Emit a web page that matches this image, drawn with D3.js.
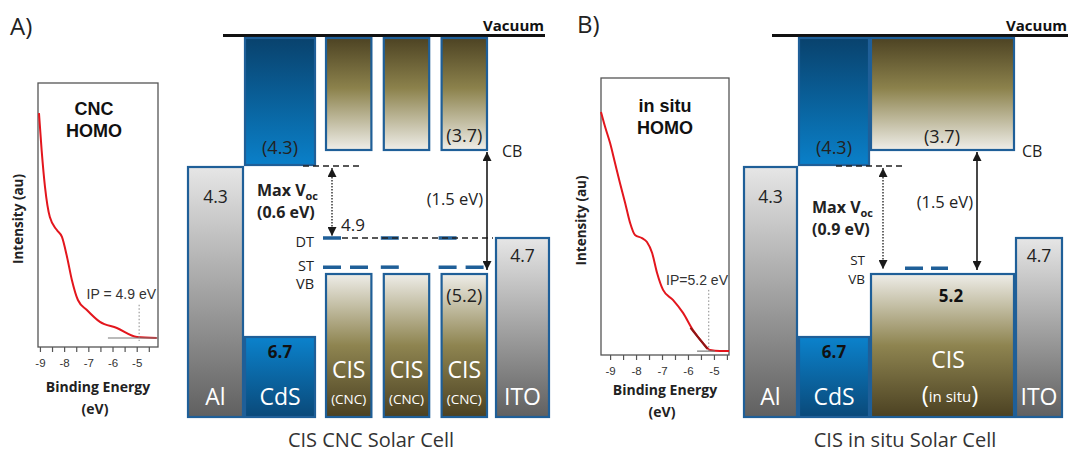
<!DOCTYPE html>
<html>
<head>
<meta charset="utf-8">
<script src="https://cdn.jsdelivr.net/npm/d3@7"></script>
<style>
  body { margin: 0; background: #fff; }
  svg { display: block; }
</style>
</head>
<body>
<svg id="chart" width="1068" height="457"></svg>
<script>
// ---------- photoemission spectra: binding energy (eV) vs intensity (a.u.) ----------
const cncEnergy    = [-9.04, -8.93, -8.79, -8.59, -8.30, -8.09, -7.88, -7.68, -7.43, -7.06, -6.52, -5.82, -4.99, -4.17];
const cncIntensity = [88.6, 74.6, 60.6, 49.2, 44.3, 41.7, 34.1, 25.4, 17.8, 14.0, 9.5, 7.2, 3.8, 3.4];
const insituEnergy    = [-9.35, -9.19, -9.00, -8.81, -8.62, -8.42, -8.23, -8.04, -7.77, -7.58, -7.38, -7.19, -6.96, -6.58, -6.19, -5.81, -5.42, -5.15, -4.77, -4.42];
const insituIntensity = [87.7, 82.3, 76.5, 69.3, 62.1, 54.9, 47.7, 43.3, 42.2, 40.8, 36.8, 29.6, 23.5, 19.9, 15.2, 9.0, 4.3, 1.8, 1.4, 1.4];
const insituEdgeFit = [[-5.9, 9.8], [-5.25, 2.2]];
const ionizationPotentials = [4.9, 5.2];
const bindingEnergyTicks = [-9, -8, -7, -6, -5];

// ---------- band levels (eV below vacuum) ----------
const contactNames = ["Al", "ITO"];
const contactWorkFunctions = [4.3, 4.7];
const cdsLevels = [4.3, 6.7];            // conduction band, valence band
const cisCncLevels = [3.7, 5.2];
const cisInsituLevels = [3.7, 5.2];
const cncTrapLevels = [4.9, 5.15];       // deep trap, shallow trap
const insituTrapLevels = [5.15];         // shallow trap
const maxVoc = [0.6, 0.9];
const cisBandGap = 1.5;
const cncColumns = ["CNC", "CNC", "CNC"];
const panelTitles = ["CIS CNC Solar Cell", "CIS in situ Solar Cell"];

// ---------- drawing ----------
const svg = d3.select("#chart");
const defs = svg.append("defs");
const BLUE = "#1f5f98";
const INK = "#222";
const SANS = "'Open Sans', 'Noto Sans', sans-serif";
const ARIAL = "'Liberation Sans', Arial, sans-serif";

function vGrad(id, stops) {
  const g = defs.append("linearGradient").attr("id", id)
    .attr("x1", 0).attr("y1", 0).attr("x2", 0).attr("y2", 1);
  stops.forEach(([o, c]) => g.append("stop").attr("offset", o).attr("stop-color", c));
}
vGrad("cdsCB", [[0, "#09426d"], [1, "#0a80c9"]]);
vGrad("cdsVB", [[0, "#0b82cc"], [1, "#0a4979"]]);
vGrad("cisCB", [[0, "#4d4323"], [0.45, "#8c824c"], [1, "#efeee9"]]);
vGrad("cisVB", [[0, "#eeede8"], [0.5, "#8e8450"], [1, "#4b4122"]]);
vGrad("metal", [[0, "#e6e6e6"], [1, "#606060"]]);

defs.append("marker").attr("id", "head")
  .attr("viewBox", "0 0 10 10").attr("refX", 10).attr("refY", 5)
  .attr("markerWidth", 9).attr("markerHeight", 9)
  .attr("markerUnits", "userSpaceOnUse")
  .attr("orient", "auto-start-reverse")
  .append("path").attr("d", "M0,0L10,5L0,10Z").attr("fill", "#1a1a1a");

function text(g, x, y, s, o = {}) {
  return g.append("text").attr("x", x).attr("y", y)
    .attr("text-anchor", o.anchor || "middle")
    .attr("font-family", o.family || SANS)
    .attr("font-size", o.size || 15)
    .attr("font-weight", o.weight || "normal")
    .attr("fill", o.fill || INK)
    .text(s);
}

// Schematic energy axis: vacuum at top, deeper levels further down (piecewise, not to scale).
const energy = d3.scaleLinear()
  .domain([0, 3.7, 4.3, 4.7, 4.9, 5.2, 6.7, 7.9])
  .range([37, 151, 166, 237, 238, 273, 336, 418]);
const yFloor = energy.range()[energy.range().length - 1];

function block(g, x0, x1, y0, y1, fill) {
  g.append("rect")
    .attr("x", x0 + 1).attr("y", y0 + 1)
    .attr("width", x1 - x0 - 2).attr("height", y1 - y0 - 2)
    .attr("fill", `url(#${fill})`)
    .attr("stroke", BLUE).attr("stroke-width", 2.2);
}
function dashed(g, x0, x1, y, dash = "6,4") {
  g.append("line").attr("x1", x0).attr("x2", x1).attr("y1", y).attr("y2", y)
    .attr("stroke", INK).attr("stroke-width", 1.3).attr("stroke-dasharray", dash);
}
function trap(g, x0, x1, y, dash) {
  g.append("line").attr("x1", x0).attr("x2", x1).attr("y1", y).attr("y2", y)
    .attr("stroke", BLUE).attr("stroke-width", 3.5)
    .attr("stroke-dasharray", dash || null);
}
function arrow(g, x, y0, y1, dotted) {
  g.append("line").attr("x1", x).attr("x2", x).attr("y1", y0).attr("y2", y1)
    .attr("stroke", "#1a1a1a").attr("stroke-width", dotted ? 1.3 : 1.6)
    .attr("stroke-dasharray", dotted ? "1.5,1.5" : null)
    .attr("marker-start", "url(#head)").attr("marker-end", "url(#head)");
}
function vocLabel(g, x, y, value) {
  const t = text(g, x, y, "Max V", { anchor: "start", weight: "bold", size: 16 });
  t.append("tspan").attr("font-size", 11).attr("dy", 4).text("oc");
  text(g, x, y + 22, `(${value} eV)`, { anchor: "start", weight: "bold", size: 16 });
}
function contacts(g, L) {
  // Al (left) and ITO (right) electrodes
  block(g, L.al[0], L.al[1], energy(contactWorkFunctions[0]), yFloor, "metal");
  block(g, L.ito[0], L.ito[1], energy(contactWorkFunctions[1]), yFloor, "metal");
  const alC = (L.al[0] + L.al[1]) / 2, itoC = (L.ito[0] + L.ito[1]) / 2;
  text(g, alC, 203, String(contactWorkFunctions[0]), { size: 17.5 });
  text(g, itoC, 262, String(contactWorkFunctions[1]), { size: 17.5 });
  text(g, alC, 405, contactNames[0], { size: 23, fill: "#fff" });
  text(g, itoC, 405, contactNames[1], { size: 23, fill: "#fff" });
}
function cds(g, L) {
  const c = (L.cds[0] + L.cds[1]) / 2;
  block(g, L.cds[0], L.cds[1], energy(0), energy(cdsLevels[0]), "cdsCB");
  block(g, L.cds[0], L.cds[1], energy(cdsLevels[1]), yFloor, "cdsVB");
  text(g, c, 154, `(${cdsLevels[0]})`, { size: 18 });
  text(g, c, 358, String(cdsLevels[1]), { size: 17, weight: "bold", fill: "#111" });
  text(g, c, 405, "CdS", { size: 23, fill: "#fff" });
}
function vacuum(g, L) {
  g.append("line").attr("x1", L.vac[0]).attr("x2", L.vac[1]).attr("y1", 35.5).attr("y2", 35.5)
    .attr("stroke", "#111").attr("stroke-width", 3);
  text(g, L.vac[1] - 1, 31, "Vacuum", { anchor: "end", weight: "bold", size: 15, fill: "#111" });
}

// ---------------- Panel A: CNC device ----------------
const LA = { al: [187, 244], cds: [244, 316], cis: [325, 488], ito: [495, 550], vac: [223, 545] };
const gA = svg.append("g");
text(gA, 10, 35, "A)", { anchor: "start", size: 24 });
vacuum(gA, LA);
const cols = d3.scaleBand().domain(d3.range(cncColumns.length)).range(LA.cis).paddingInner(0.18);
cncColumns.forEach((name, i) => {
  const x0 = cols(i), x1 = x0 + cols.bandwidth(), c = (x0 + x1) / 2;
  block(gA, x0, x1, energy(0), energy(cisCncLevels[0]), "cisCB");
  block(gA, x0, x1, energy(cisCncLevels[1]), yFloor, "cisVB");
  text(gA, c, 378, "CIS", { size: 23, fill: "#fff" });
  text(gA, c, 404, `(${name})`, { size: 13.5, fill: "#fff" });
});
contacts(gA, LA);
cds(gA, LA);
{
  const last = cncColumns.length - 1, c3 = cols(last) + cols.bandwidth() / 2;
  text(gA, c3, 142, `(${cisCncLevels[0]})`, { size: 18 });
  text(gA, c3, 302, `(${cisCncLevels[1]})`, { size: 18 });
}
// trap states
const stDashes = [2, 1, 2];
cncColumns.forEach((_, i) => {
  const x0 = cols(i) - 2;
  trap(gA, x0, x0 + 18, energy(cncTrapLevels[0]));
  trap(gA, x0, x0 + 18 + (stDashes[i] - 1) * 27, energy(cncTrapLevels[1]), "18,9");
});
dashed(gA, 303, 362, energy(cdsLevels[0]));
dashed(gA, 342, 493, energy(cncTrapLevels[0]));
arrow(gA, 332, energy(cdsLevels[0]) + 2, energy(cncTrapLevels[0]) - 2, true);
arrow(gA, 487, energy(cisCncLevels[0]) + 1, energy(cisCncLevels[0] + cisBandGap) - 3, false);
vocLabel(gA, 257, 196, maxVoc[0]);
text(gA, 341, 231, String(cncTrapLevels[0]), { anchor: "start", size: 17 });
text(gA, 314, 247, "DT", { anchor: "end", size: 14.5 });
text(gA, 314, 271, "ST", { anchor: "end", size: 14.5 });
text(gA, 314, 289, "VB", { anchor: "end", size: 14.5 });
text(gA, 502, 157, "CB", { anchor: "start", size: 16 });
text(gA, 483, 205, `(${cisBandGap} eV)`, { anchor: "end", size: 16.5 });
text(gA, 371, 447, panelTitles[0], { size: 20, fill: "#333" });

// ---------------- Panel B: in situ device ----------------
const LB = { al: [743, 798], cds: [798, 870], cis: [870, 1015], ito: [1015, 1063], vac: [772, 1068] };
const gB = svg.append("g");
text(gB, 577, 33, "B)", { anchor: "start", size: 24 });
vacuum(gB, LB);
block(gB, LB.cis[0], LB.cis[1], energy(0), energy(cisInsituLevels[0]), "cisCB");
block(gB, LB.cis[0], LB.cis[1], energy(cisInsituLevels[1]), yFloor, "cisVB");
contacts(gB, LB);
cds(gB, LB);
text(gB, 942, 143, `(${cisInsituLevels[0]})`, { size: 18 });
text(gB, 951, 302, String(cisInsituLevels[1]), { size: 17, weight: "bold", fill: "#111" });
text(gB, 948, 368, "CIS", { size: 23, fill: "#fff" });
{
  const t = text(gB, 950, 403, "(", { size: 24, fill: "#fff" });
  t.append("tspan").attr("font-size", 15).attr("dy", -1).text("in situ");
  t.append("tspan").attr("font-size", 24).attr("dy", 1).text(")");
}
trap(gB, 905, 948, energy(insituTrapLevels[0]) + 1, "18,8");
dashed(gB, 836, 905, energy(cdsLevels[0]));
arrow(gB, 883, energy(cdsLevels[0]) + 2, energy(cdsLevels[0] + maxVoc[1]) - 4, true);
arrow(gB, 977, energy(cisInsituLevels[0]) + 1, energy(cisInsituLevels[0] + cisBandGap) - 3, false);
vocLabel(gB, 812, 213, maxVoc[1]);
text(gB, 865, 265, "ST", { anchor: "end", size: 13.5 });
text(gB, 865, 284, "VB", { anchor: "end", size: 13.5 });
text(gB, 1022, 157, "CB", { anchor: "start", size: 16 });
text(gB, 973, 208, `(${cisBandGap} eV)`, { anchor: "end", size: 16.5 });
text(gB, 905, 447, panelTitles[1], { size: 20, fill: "#333" });

// ---------------- photoemission insets ----------------
function spectrum(cfg) {
  const g = svg.append("g");
  const [bx0, by0, bx1, by1] = cfg.box;
  const x = d3.scaleLinear().domain(cfg.xDomain).range([bx0, bx1]);
  const y = d3.scaleLinear().domain([0, 100]).range([by1, by0]);

  const minor = d3.range(bindingEnergyTicks[0], cfg.xDomain[1], 0.5);
  const axis = d3.axisBottom(x).tickValues(minor).tickSize(5).tickSizeOuter(0)
    .tickFormat(d => bindingEnergyTicks.includes(d) ? String(d) : "");
  const ax = g.append("g").attr("transform", `translate(0,${by1})`).call(axis);
  ax.select(".domain").remove();
  ax.selectAll(".tick line").attr("stroke", "#555").attr("stroke-width", 1.2);
  ax.selectAll(".tick text").attr("font-family", ARIAL).attr("font-size", 11.5)
    .attr("fill", "#333").attr("dy", "1.05em");

  g.append("rect").attr("x", bx0).attr("y", by0).attr("width", bx1 - bx0).attr("height", by1 - by0)
    .attr("fill", "none").attr("stroke", "#555").attr("stroke-width", 1.3);

  const pts = cfg.energy.map((e, i) => [e, cfg.intensity[i]]);
  const line = d3.line().x(d => x(d[0])).y(d => y(d[1])).curve(d3.curveMonotoneX);
  g.append("path").attr("d", line(pts)).attr("fill", "none")
    .attr("stroke", "#e3161d").attr("stroke-width", 2);
  if (cfg.fit) {
    g.append("path").attr("d", d3.line().x(d => x(d[0])).y(d => y(d[1]))(cfg.fit))
      .attr("fill", "none").attr("stroke", "#8e1515").attr("stroke-width", 2.2);
  }
  // onset construction
  g.append("line").attr("x1", x(cfg.base[0])).attr("x2", x(cfg.base[1]))
    .attr("y1", y(cfg.base[2])).attr("y2", y(cfg.base[2]))
    .attr("stroke", "#777").attr("stroke-width", 1.2);
  g.append("line").attr("x1", x(-cfg.ip)).attr("x2", x(-cfg.ip))
    .attr("y1", y(cfg.ipSpan[0])).attr("y2", y(cfg.ipSpan[1]))
    .attr("stroke", "#888").attr("stroke-width", 1).attr("stroke-dasharray", "1.5,2");
  text(g, cfg.ipLabel[0], cfg.ipLabel[1], cfg.ipText, { anchor: "end", family: ARIAL, size: 14, fill: "#333" });

  const cx = cfg.titleX;
  text(g, cx, cfg.titleY, cfg.title[0], { family: ARIAL, size: 18, weight: "bold", fill: "#111" });
  text(g, cx, cfg.titleY + 22, cfg.title[1], { family: ARIAL, size: 18, weight: "bold", fill: "#111" });
  g.append("text").attr("transform", `translate(${cfg.yLabelX},${(by0 + by1) / 2 + 4}) rotate(-90)`)
    .attr("text-anchor", "middle").attr("font-family", SANS).attr("font-weight", "bold")
    .attr("font-size", 13.5).attr("fill", "#222").text("Intensity (au)");
  const lx = (bx0 + bx1) / 2;
  text(g, lx, cfg.xLabelY, "Binding Energy", { size: 14, weight: "bold", fill: "#222" });
  text(g, lx - 3, cfg.xLabelY + 22, "(eV)", { size: 14, weight: "bold", fill: "#222" });
}

spectrum({
  box: [38, 83, 158, 347], xDomain: [-9.08, -4.12],
  energy: cncEnergy, intensity: cncIntensity,
  base: [-6.19, -4.12, 3.4], ip: ionizationPotentials[0], ipSpan: [16, 2.3],
  ipLabel: [156, 299], ipText: `IP = ${ionizationPotentials[0]} eV`,
  title: ["CNC", "HOMO"], titleX: 94, titleY: 115, yLabelX: 23, xLabelY: 392
});
spectrum({
  box: [601, 78, 729, 355], xDomain: [-9.35, -4.42],
  energy: insituEnergy, intensity: insituIntensity, fit: insituEdgeFit,
  base: [-5.65, -4.96, 1.4], ip: ionizationPotentials[1], ipSpan: [23.5, 1.1],
  ipLabel: [728, 285], ipText: `IP=${ionizationPotentials[1]} eV`,
  title: ["in situ", "HOMO"], titleX: 665, titleY: 112, yLabelX: 586, xLabelY: 395
});
</script>
</body>
</html>
